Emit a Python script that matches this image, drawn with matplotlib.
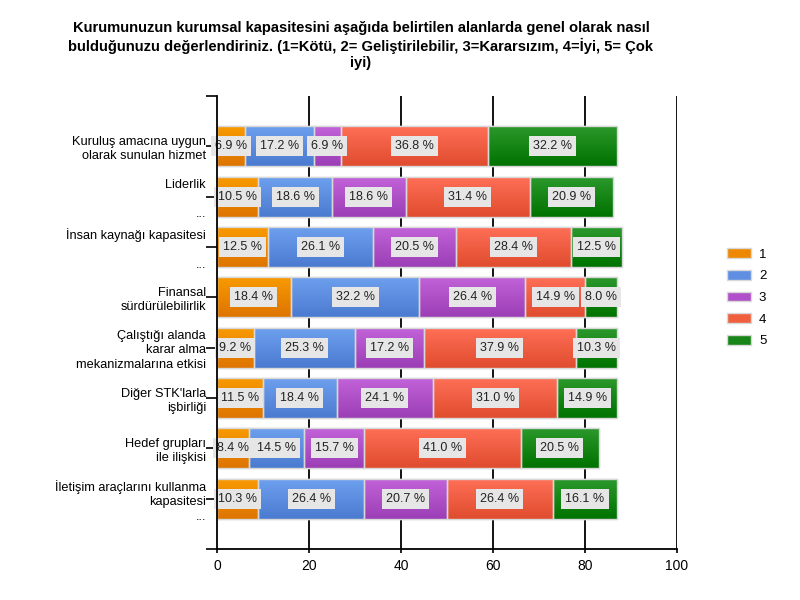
import matplotlib
matplotlib.use("Agg")
import matplotlib.pyplot as plt
from matplotlib.patches import Patch
from matplotlib.colors import LinearSegmentedColormap
import numpy as np

plt.rcParams['font.family'] = ['Liberation Sans', 'DejaVu Sans']

title = ("Kurumunuzun kurumsal kapasitesini aşağıda belirtilen alanlarda genel olarak nasıl\n"
         "bulduğunuzu değerlendiriniz. (1=Kötü, 2= Geliştirilebilir, 3=Kararsızım, 4=İyi, 5= Çok\n"
         "iyi)")

categories = [
    "Kuruluş amacına uygun\nolarak sunulan hizmet",
    "Liderlik\n\n...",
    "İnsan kaynağı kapasitesi\n\n...",
    "Finansal\nsürdürülebilirlik",
    "Çalıştığı alanda\nkarar alma\nmekanizmalarına etkisi",
    "Diğer STK'larla\nişbirliği",
    "Hedef grupları\nile ilişkisi",
    "İletişim araçlarını kullanma\nkapasitesi\n...",
]

series_names = ["1", "2", "3", "4", "5"]

# counts (bar lengths)
s1 = [6, 9, 11, 16, 8, 10, 7, 9]
s2 = [15, 16, 23, 28, 22, 16, 12, 23]
s3 = [6, 16, 18, 23, 15, 21, 13, 18]
s4 = [32, 27, 25, 13, 33, 27, 34, 23]
s5 = [28, 18, 11, 7, 9, 13, 17, 14]

# percentage labels
p1 = [6.9, 10.5, 12.5, 18.4, 9.2, 11.5, 8.4, 10.3]
p2 = [17.2, 18.6, 26.1, 32.2, 25.3, 18.4, 14.5, 26.4]
p3 = [6.9, 18.6, 20.5, 26.4, 17.2, 24.1, 15.7, 20.7]
p4 = [36.8, 31.4, 28.4, 14.9, 37.9, 31.0, 41.0, 26.4]
p5 = [32.2, 20.9, 12.5, 8.0, 10.3, 14.9, 20.5, 16.1]

x_ticks = [0, 20, 40, 60, 80, 100]

colors = ["#ee8800", "#5f8ee2", "#b150ca", "#f0603f", "#178517"]
tops = ["#f99b00", "#6ea0ef", "#c263d9", "#ff7058", "#2c9a2c"]
bottoms = ["#de7400", "#4b7bd0", "#9c3eb5", "#e04c2e", "#007200"]

series = [s1, s2, s3, s4, s5]
pcts = [p1, p2, p3, p4, p5]

fig = plt.figure(figsize=(8, 6), dpi=100)
ax = fig.add_axes([217/800, 1-549/600, 460/800, 453/600])

grad = np.linspace(0, 1, 64).reshape(-1, 1)
y = np.arange(len(categories))
left = np.zeros(len(categories))
for vals, pc, col, tc, bc in zip(series, pcts, colors, tops, bottoms):
    vals = np.array(vals, dtype=float)
    bars = ax.barh(y, vals, left=left, height=0.8, color=col, edgecolor="#d8d8d8",
                   linewidth=1.0, zorder=2)
    cmap = LinearSegmentedColormap.from_list("g", [tc, bc])
    for b in bars:
        x0, y0 = b.get_x(), b.get_y()
        w, h = b.get_width(), b.get_height()
        im = ax.imshow(grad, cmap=cmap, aspect="auto", origin="upper",
                       extent=(x0, x0 + w, y0 + h, y0), zorder=2.1, interpolation="bilinear")
        im.set_clip_path(b)
        ax.add_patch(plt.Rectangle((x0, y0), w, h, facecolor="none",
                                   edgecolor="#d8d8d8", linewidth=1.0, zorder=2.2))
    for yi, l, v, p in zip(y, left, vals, pc):
        ax.text(l + v/2, yi, f"{p:.1f} %", ha="center", va="center", fontsize=9,
                color="#222222", zorder=4,
                bbox=dict(boxstyle="square,pad=0.32", facecolor="#e6e6e6", edgecolor="none"))
    left += vals

ax.set_xlim(0, 100)
ax.set_ylim(8, -1)
ax.set_xticks(x_ticks)
ax.set_xticklabels([str(t) for t in x_ticks], fontsize=10)
ax.set_yticks(y)
ax.set_yticklabels(categories, fontsize=9.2, linespacing=1.25, ha="right")
ax.set_yticks([-1, 8], minor=True)
ax.tick_params(axis="y", which="both", length=8, width=1.2, color="black", pad=0)
ax.tick_params(axis="x", length=3, width=1.2, pad=4)

for g in x_ticks[1:]:
    ax.axvline(g, color="black", linewidth=1.3, zorder=1)

for s in ["top", "right"]:
    ax.spines[s].set_visible(False)
ax.spines["left"].set_linewidth(1.3)
ax.spines["bottom"].set_linewidth(1.3)
ax.spines["left"].set_zorder(5)

fig.text(361/800, 1-21/600, title, ha="center", va="top", fontsize=10.6,
         fontweight="bold", linespacing=1.2)

handles = [Patch(facecolor=c, edgecolor="#d8d8d8", label=n) for c, n in zip(colors, series_names)]
fig.legend(handles=handles, loc="upper left", bbox_to_anchor=(722/800, 1-243/600),
           frameon=False, fontsize=9.5, handlelength=1.8, handleheight=0.75,
           labelspacing=0.7, handletextpad=0.6, borderaxespad=0)

fig.savefig("out.png", dpi=100)
